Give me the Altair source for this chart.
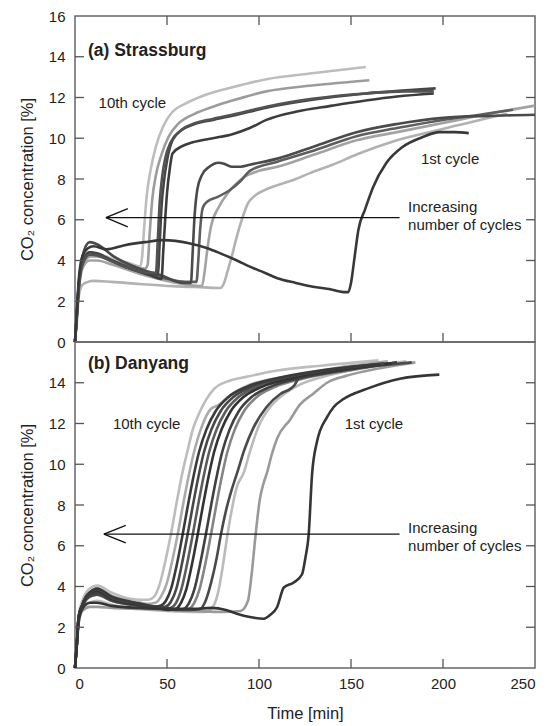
import altair as alt
import pandas as pd

FONT = "Liberation Sans"
W, H = 460, 326

# ---------------- (a) Strassburg ----------------
A1_T = [0, 1, 2, 4, 7, 10, 17, 27, 38, 48, 62, 72, 79, 88, 95, 103, 110, 120, 128, 138, 146, 148.5, 150, 152, 154, 157.6, 162, 169, 178, 189, 198, 206, 214]
A1_Y = [0, 1.5, 3.0, 4.2, 4.6, 4.7, 4.55, 4.75, 4.9, 5.0, 4.85, 4.6, 4.35, 4.0, 3.7, 3.4, 3.13, 2.9, 2.74, 2.6, 2.45, 2.45, 2.9, 4.2, 5.5, 6.5, 7.6, 8.76, 9.57, 10.06, 10.3, 10.3, 10.25]
A2_T = [0, 1, 2, 4, 8, 12, 21, 35, 46, 59, 63, 64, 65, 66.5, 69, 73, 78, 81, 85, 90, 95, 110, 130, 153, 175, 200, 225, 250]
A2_Y = [0, 1.4, 2.8, 4.2, 4.9, 4.8, 4.2, 3.6, 3.3, 2.9, 2.9, 4.5, 6.2, 7.5, 8.2, 8.6, 8.8, 8.75, 8.6, 8.6, 8.7, 9.0, 9.6, 10.3, 10.7, 11.0, 11.1, 11.15]
A3_T = [0, 1, 2, 4, 8, 12, 20, 35, 50, 60, 66, 67, 68, 69.5, 72, 77, 84, 90, 95, 110, 130, 153, 175, 200, 220, 238]
A3_Y = [0, 1.3, 2.6, 3.8, 4.3, 4.3, 4.0, 3.5, 3.1, 2.95, 2.95, 4.0, 5.5, 6.6, 6.9, 7.1, 7.45, 7.9, 8.4, 8.85, 9.4, 10.1, 10.5, 10.9, 11.15, 11.4]
A4_T = [0, 1, 2, 4, 8, 12, 20, 35, 50, 62, 69, 70.5, 72, 74, 78, 83, 92, 100, 110, 130, 153, 175, 200, 225, 250]
A4_Y = [0, 1.2, 2.5, 3.6, 4.0, 4.0, 3.8, 3.35, 3.0, 2.8, 2.75, 3.5, 4.6, 5.7, 6.6, 7.3, 8.1, 8.4, 8.6, 9.2, 9.9, 10.3, 10.75, 11.2, 11.6]
A5_T = [0, 1, 2, 4, 7, 10, 20, 35, 53, 70, 79, 81, 83, 85.5, 88, 91, 94, 98, 103, 110, 120, 128, 140, 153, 175, 202, 220, 235]
A5_Y = [0, 1.0, 2.2, 2.8, 2.95, 3.0, 2.95, 2.85, 2.74, 2.68, 2.65, 2.9, 3.5, 4.3, 5.2, 6.1, 6.8, 7.2, 7.45, 7.7, 8.0, 8.3, 8.7, 9.2, 9.9, 10.5, 10.9, 11.2]
A6_T = [0, 1, 2, 4, 8, 12, 20, 30, 40, 47, 48, 49, 50, 51.5, 53, 58, 64, 75, 85.5, 95, 104, 120, 140, 158, 175, 195]
A6_Y = [0, 1.4, 2.8, 3.9, 4.4, 4.3, 4.0, 3.6, 3.3, 3.1, 4.5, 6.0, 7.3, 8.5, 9.25, 9.6, 9.8, 10.0, 10.2, 10.5, 10.9, 11.3, 11.6, 11.85, 12.05, 12.2]
A7_T = [0, 1, 2, 4, 8, 12, 20, 30, 40, 45, 46, 47, 48.5, 50, 53, 58, 65, 75, 85.5, 104, 130, 158, 180, 196]
A7_Y = [0, 1.3, 2.7, 3.9, 4.4, 4.35, 4.0, 3.6, 3.35, 3.3, 4.8, 6.6, 8.0, 8.9, 9.9, 10.4, 10.7, 10.9, 11.1, 11.5, 11.9, 12.2, 12.35, 12.45]
A8_T = [0, 1, 2, 4, 8, 12, 20, 30, 40, 44, 45, 46, 47.5, 49, 52, 57, 64, 75, 85.5, 104, 130, 158, 180, 195]
A8_Y = [0, 1.3, 2.6, 3.8, 4.3, 4.25, 3.95, 3.6, 3.4, 3.4, 5.0, 6.8, 8.2, 9.0, 9.8, 10.35, 10.7, 10.95, 11.15, 11.55, 11.95, 12.2, 12.3, 12.3]
A9_T = [0, 1, 2, 4, 8, 12, 20, 30, 38, 39.5, 40.5, 42, 44, 47, 51, 56, 65, 75, 85.5, 104, 130, 160]
A9_Y = [0, 1.2, 2.5, 3.7, 4.2, 4.2, 4.0, 3.75, 3.6, 3.8, 5.2, 7.0, 8.2, 9.2, 10.1, 10.7, 11.2, 11.55, 11.85, 12.3, 12.6, 12.85]
A10_T = [0, 1, 2, 4, 8, 12, 20, 30, 35.5, 36.5, 37.5, 39, 41, 44, 48, 53, 60, 70, 85.5, 104, 130, 158]
A10_Y = [0, 1.2, 2.5, 3.7, 4.2, 4.3, 4.1, 3.85, 3.7, 4.2, 5.5, 7.2, 8.4, 9.6, 10.6, 11.3, 11.7, 12.1, 12.5, 12.9, 13.2, 13.5]

A_CURVES = [("a5", A5_T, A5_Y, "#b2b2b2"), ("a4", A4_T, A4_Y, "#a3a3a3"),
            ("a10", A10_T, A10_Y, "#bdbdbd"), ("a9", A9_T, A9_Y, "#9c9c9c"),
            ("a3", A3_T, A3_Y, "#5e5e5e"), ("a2", A2_T, A2_Y, "#4a4a4a"),
            ("a6", A6_T, A6_Y, "#3c3c3c"), ("a7", A7_T, A7_Y, "#464646"),
            ("a8", A8_T, A8_Y, "#525252"), ("a1", A1_T, A1_Y, "#383838")]

# ---------------- (b) Danyang ----------------
B1_T = [0, 1, 2, 4, 8, 12, 20, 35, 50, 65, 74, 82, 88, 95, 102.6, 106, 109.8, 113.5, 118.9, 123.4, 125.2, 127, 128.8, 131.5, 136.9, 140.5, 145.9, 158.5, 176.6, 198]
B1_Y = [0, 1.2, 2.3, 2.9, 3.2, 3.2, 3.05, 2.95, 2.9, 2.9, 2.95, 2.85, 2.66, 2.5, 2.42, 2.6, 2.98, 3.95, 4.2, 4.6, 5.4, 6.55, 9.47, 11.1, 12.3, 12.8, 13.2, 13.7, 14.2, 14.4]
B2_T = [0, 1, 2, 4, 8, 12, 20, 35, 50, 65, 80, 90, 94, 96, 98.1, 100.5, 102.6, 104.4, 107, 110, 117, 122, 130, 137, 148, 165, 185]
B2_Y = [0, 1.1, 2.2, 2.8, 3.0, 3.0, 2.95, 2.9, 2.85, 2.8, 2.75, 2.8, 3.3, 4.6, 6.5, 8.3, 9.1, 9.6, 10.5, 11.3, 12.2, 12.9, 13.5, 14.0, 14.35, 14.7, 15.0]
B2A_T = [0, 1, 2, 4, 8, 12, 20, 35, 50, 62, 68, 71, 74, 77, 79.2, 82, 85, 88.2, 92, 97, 104, 111.6, 117, 119, 121.6, 128, 140, 160, 183]
B2A_Y = [0, 1.2, 2.4, 3.0, 3.5, 3.6, 3.3, 3.05, 2.9, 2.85, 2.9, 3.3, 4.2, 5.4, 6.5, 7.7, 8.7, 9.6, 10.7, 11.8, 12.8, 13.45, 13.7, 13.85, 14.2, 14.4, 14.6, 14.8, 15.0]
B2B_T = [0, 1, 2, 4, 8, 12, 20, 35, 50, 65, 71, 75, 78, 80.5, 82.8, 85.5, 88, 91.8, 95, 100, 106, 113, 122, 135, 155, 180]
B2B_Y = [0, 1.1, 2.2, 2.9, 3.2, 3.3, 3.1, 2.9, 2.8, 2.75, 2.75, 3.0, 3.8, 5.1, 6.5, 7.9, 8.9, 9.6, 10.6, 11.9, 12.8, 13.4, 13.9, 14.3, 14.7, 15.05]
B3_T = [0, 1, 2, 4, 8, 12, 20, 35, 50, 57.8, 61.8, 64.8, 67.8, 70.8, 73.8, 76.8, 79.8, 82.8, 86.8, 91.8, 98.8, 108.8, 123.8, 148.8, 175]
B3_Y = [0, 1.2, 2.4, 3.0, 3.5, 3.6, 3.3, 3.05, 2.9, 2.85, 2.9, 3.2, 3.9, 5.1, 6.5, 8.0, 9.4, 10.6, 11.7, 12.6, 13.3, 13.8, 14.2, 14.6, 15.0]
B4_T = [0, 1, 2, 4, 8, 12, 20, 35, 50, 55, 59, 62, 65, 68, 71, 74, 77, 80, 84, 89, 96, 106, 121, 146, 175]
B4_Y = [0, 1.2, 2.5, 3.1, 3.6, 3.7, 3.35, 3.1, 2.95, 2.85, 2.9, 3.2, 3.9, 5.1, 6.5, 8.0, 9.4, 10.6, 11.7, 12.6, 13.3, 13.8, 14.2, 14.6, 15.0]
B5_T = [0, 1, 2, 4, 8, 12, 20, 35, 45, 50.6, 54.6, 57.6, 60.6, 63.6, 66.6, 69.6, 72.6, 75.6, 79.6, 84.6, 91.6, 101.6, 116.6, 141.6, 172]
B5_Y = [0, 1.2, 2.5, 3.1, 3.7, 3.8, 3.4, 3.1, 2.95, 2.85, 2.9, 3.2, 3.9, 5.1, 6.5, 8.0, 9.4, 10.6, 11.7, 12.6, 13.3, 13.8, 14.2, 14.6, 14.95]
B6_T = [0, 1, 2, 4, 8, 12, 20, 35, 44, 47.9, 51.9, 54.9, 57.9, 60.9, 63.9, 66.9, 69.9, 72.9, 76.9, 81.9, 88.9, 98.9, 113.9, 138.9, 170]
B6_Y = [0, 1.2, 2.5, 3.1, 3.7, 3.8, 3.4, 3.15, 3.0, 2.9, 2.95, 3.2, 3.9, 5.1, 6.5, 8.0, 9.4, 10.6, 11.7, 12.6, 13.3, 13.8, 14.2, 14.6, 14.95]
B7_T = [0, 1, 2, 4, 8, 12, 20, 35, 42, 45.1, 49.1, 52.1, 55.1, 58.1, 61.1, 64.1, 67.1, 70.1, 74.1, 79.1, 86.1, 96.1, 111.1, 136.1, 168]
B7_Y = [0, 1.2, 2.5, 3.1, 3.7, 3.85, 3.45, 3.15, 3.0, 2.95, 3.0, 3.25, 3.9, 5.1, 6.5, 8.0, 9.4, 10.6, 11.7, 12.6, 13.3, 13.8, 14.2, 14.6, 14.95]
B8_T = [0, 1, 2, 4, 8, 12, 20, 30, 38, 42.4, 46.4, 49.4, 52.4, 55.4, 58.4, 61.4, 64.4, 67.4, 71.4, 76.4, 83.4, 93.4, 108.4, 133.4, 166]
B8_Y = [0, 1.2, 2.5, 3.1, 3.7, 3.9, 3.5, 3.25, 3.1, 3.0, 3.05, 3.3, 3.95, 5.1, 6.5, 8.0, 9.4, 10.6, 11.7, 12.6, 13.3, 13.8, 14.2, 14.6, 14.9]
B9_T = [0, 1, 2, 4, 8, 12, 20, 30, 36, 39.7, 43.7, 46.7, 49.7, 52.7, 55.7, 58.7, 61.7, 64.7, 68.7, 73.7, 78, 84.5, 95, 115, 140, 170]
B9_Y = [0, 1.2, 2.5, 3.1, 3.7, 3.9, 3.55, 3.3, 3.2, 3.15, 3.2, 3.5, 4.1, 5.2, 6.5, 8.0, 9.4, 10.6, 11.8, 12.7, 12.9, 13.4, 13.9, 14.3, 14.7, 15.05]
B10_T = [0, 1, 2, 4, 8, 12, 20, 30, 36, 40, 43, 46, 49, 52, 55, 58.4, 61, 64, 67.5, 75.6, 84, 93.6, 110, 135, 165]
B10_Y = [0, 1.2, 2.6, 3.3, 3.9, 4.05, 3.7, 3.4, 3.35, 3.35, 3.5, 4.1, 5.2, 6.5, 8.0, 9.6, 10.6, 11.7, 12.5, 13.7, 14.1, 14.3, 14.6, 14.85, 15.1]

B_CURVES = [("b10", B10_T, B10_Y, "#bdbdbd"), ("b9", B9_T, B9_Y, "#ababab"),
            ("b2b", B2B_T, B2B_Y, "#bbbbbb"), ("b2", B2_T, B2_Y, "#9a9a9a"),
            ("b3", B3_T, B3_Y, "#858585"), ("b6", B6_T, B6_Y, "#5c5c5c"),
            ("b2a", B2A_T, B2A_Y, "#4a4a4a"), ("b4", B4_T, B4_Y, "#404040"),
            ("b5", B5_T, B5_Y, "#333333"), ("b7", B7_T, B7_Y, "#484848"),
            ("b8", B8_T, B8_Y, "#3a3a3a"), ("b1", B1_T, B1_Y, "#353535")]

X_TICKS = [0, 50, 100, 150, 200, 250]
X_INNER = [50, 100, 150, 200]
Y_TICKS_A = [0, 2, 4, 6, 8, 10, 12, 14, 16]
Y_TICKS_B = [0, 2, 4, 6, 8, 10, 12, 14]
Y_INNER = [2, 4, 6, 8, 10, 12, 14]

# annotations: (text, x, y)
A_TITLE = ("(a) Strassburg", 7, 14.3)
B_TITLE = ("(b) Danyang", 7, 14.9)
A_LABELS = [("10th cycle", 12.8, 11.74), ("1st cycle", 188, 9.0),
            ("Increasing", 181, 6.65), ("number of cycles", 181, 5.72)]
B_LABELS = [("10th cycle", 20.6, 12.0), ("1st cycle", 146.6, 12.0),
            ("Increasing", 181, 6.86), ("number of cycles", 181, 5.98)]
A_ARROW = [(176.4, 6.1, 16.8, 6.1), (16.8, 6.1, 28.7, 6.55), (16.8, 6.1, 28.7, 5.65)]
B_ARROW = [(176.4, 6.57, 15.7, 6.57), (15.7, 6.57, 27.6, 7.0), (15.7, 6.57, 27.6, 6.14)]


def curves_df(curves):
    rows = []
    for k, (name, ts, ys, col) in enumerate(curves):
        for i, (t, y) in enumerate(zip(ts, ys)):
            rows.append({"cycle": name, "t": t, "y": y, "o": i, "col": col, "z": k})
    return pd.DataFrame(rows)


def panel(curves, yticks, title, labels, arrow, bottom):
    xs = alt.Scale(domain=[0, 250], nice=False)
    ys = alt.Scale(domain=[0, 16], nice=False)
    if bottom:
        xaxis = alt.Axis(values=X_TICKS, title="Time [min]", ticks=False, domain=False,
                         grid=False, labelPadding=8, titlePadding=14, format="d")
    else:
        xaxis = alt.Axis(values=X_TICKS, title=None, labels=False, ticks=False,
                         domain=False, grid=False)
    yaxis = alt.Axis(values=yticks, title="CO₂ concentration [%]", ticks=False,
                     domain=False, grid=False, labelPadding=10, titlePadding=13, format="d")
    df = curves_df(curves)
    lines = alt.Chart(df).mark_line(strokeWidth=2.6, interpolate="monotone").encode(
        x=alt.X("t:Q", scale=xs, axis=xaxis),
        y=alt.Y("y:Q", scale=ys, axis=yaxis),
        color=alt.Color("col:N", scale=None, legend=None),
        detail="cycle:N",
        order="o:Q",
    )
    xt = pd.DataFrame({"v": X_INNER})
    yt = pd.DataFrame({"v": Y_INNER})
    tick_style = dict(color="#555", strokeWidth=1.3)
    xb = alt.Chart(xt).mark_rule(**tick_style).encode(
        x=alt.X("v:Q", scale=xs), y=alt.value(H), y2=alt.value(H - 9))
    xtop = alt.Chart(xt).mark_rule(**tick_style).encode(
        x=alt.X("v:Q", scale=xs), y=alt.value(0), y2=alt.value(9))
    yl = alt.Chart(yt).mark_rule(**tick_style).encode(
        y=alt.Y("v:Q", scale=ys), x=alt.value(0), x2=alt.value(9))
    yr = alt.Chart(yt).mark_rule(**tick_style).encode(
        y=alt.Y("v:Q", scale=ys), x=alt.value(W), x2=alt.value(W - 9))

    ar = pd.DataFrame(arrow, columns=["x1", "y1", "x2", "y2"])
    arrows = alt.Chart(ar).mark_rule(color="#111", strokeWidth=1.3).encode(
        x=alt.X("x1:Q", scale=xs), y=alt.Y("y1:Q", scale=ys), x2="x2:Q", y2="y2:Q")

    tl = pd.DataFrame(labels, columns=["txt", "x", "y"])
    texts = alt.Chart(tl).mark_text(align="left", baseline="middle", font=FONT,
                                    fontSize=15, color="#222").encode(
        x=alt.X("x:Q", scale=xs), y=alt.Y("y:Q", scale=ys), text="txt:N")
    tt = pd.DataFrame([title], columns=["txt", "x", "y"])
    ttext = alt.Chart(tt).mark_text(align="left", baseline="middle", font=FONT,
                                    fontSize=17.5, fontWeight="bold", color="#222").encode(
        x=alt.X("x:Q", scale=xs), y=alt.Y("y:Q", scale=ys), text="txt:N")

    layers = [lines, xb, yl, yr, arrows, texts, ttext]
    if not bottom:
        layers.append(xtop)
    return alt.layer(*layers).properties(width=W, height=H)


top = panel(A_CURVES, Y_TICKS_A, A_TITLE, A_LABELS, A_ARROW, False)
bot = panel(B_CURVES, Y_TICKS_B, B_TITLE, B_LABELS, B_ARROW, True)

chart = alt.vconcat(top, bot, spacing=0, bounds="flush").properties(
    padding={"left": 10, "top": 0, "right": 0, "bottom": 0}
).configure_view(stroke="#666", strokeWidth=1.5).configure_axis(
    labelFont=FONT, labelFontSize=15, labelColor="#222",
    titleFont=FONT, titleFontSize=16.5, titleFontWeight="normal", titleColor="#222",
).configure_concat(spacing=0)

chart.save("out.html", embed_options={"renderer": "svg", "actions": False})
